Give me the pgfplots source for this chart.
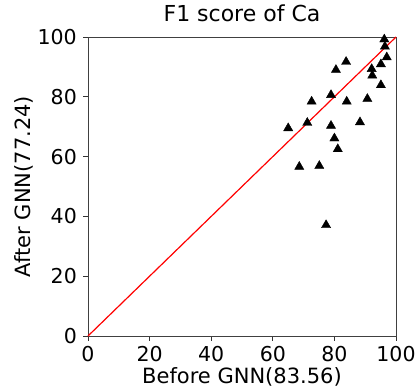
\documentclass[border=0pt]{standalone}
\usepackage{pgfplots}
\pgfplotsset{compat=1.18}
\usepackage{fontspec}
\setmainfont{DejaVu Sans}
\begin{document}
\fontsize{21}{25}\selectfont
\begin{tikzpicture}[x=1pt,y=1pt]
\useasboundingbox (0,0) rectangle (417,390);
\begin{axis}[
  at={(88pt,54pt)}, anchor=south west,
  scale only axis, width=308pt, height=299pt,
  xmin=0, xmax=100, ymin=0, ymax=100,
  xtick={0,20,40,60,80,100}, ytick={0,20,40,60,80,100},
  tick align=outside, major tick length=5pt,
  tick style={black!80, line width=0.9pt},
  axis line style={black!75, line width=0.9pt},
  xtick pos=bottom, ytick pos=left,
  /pgf/number format/assume math mode=true,
  ticklabel style={font=\fontsize{20.5}{24}\selectfont, inner sep=6pt},
  xticklabel style={yshift=1pt},
  title style={font=\fontsize{22}{26}\selectfont, at={(axis description cs:0.5,1.0334)}, anchor=base},
  xlabel style={font=\fontsize{21}{25}\selectfont, at={(axis description cs:0.5,-0.1605)}, anchor=base},
  ylabel style={font=\fontsize{21}{25}\selectfont, at={(axis description cs:-0.1883,0.5)}, anchor=base},
  title={F1 score of Ca},
  xlabel={Before GNN(83.56)},
  ylabel={After GNN(77.24)},
  clip=false,
]
\addplot[red, line width=1.2pt] coordinates {(0,0) (100,100)};
\addplot[only marks, mark=triangle*, mark size=5.3pt, black] coordinates {
(96.2,99.2) (96.4,96.8) (97.0,93.2) (83.8,91.7) (80.5,89.0) (92.1,89.3)
(95.1,90.9) (92.3,87.1) (95.1,83.9) (72.6,78.4) (78.9,80.6) (84.0,78.4)
(90.7,79.3) (65.0,69.5) (71.2,71.3) (78.9,70.3) (88.3,71.5) (80.0,66.1)
(81.1,62.5) (68.6,56.6) (75.1,56.9) (77.3,37.1)
};
\end{axis}
\end{tikzpicture}
\end{document}
